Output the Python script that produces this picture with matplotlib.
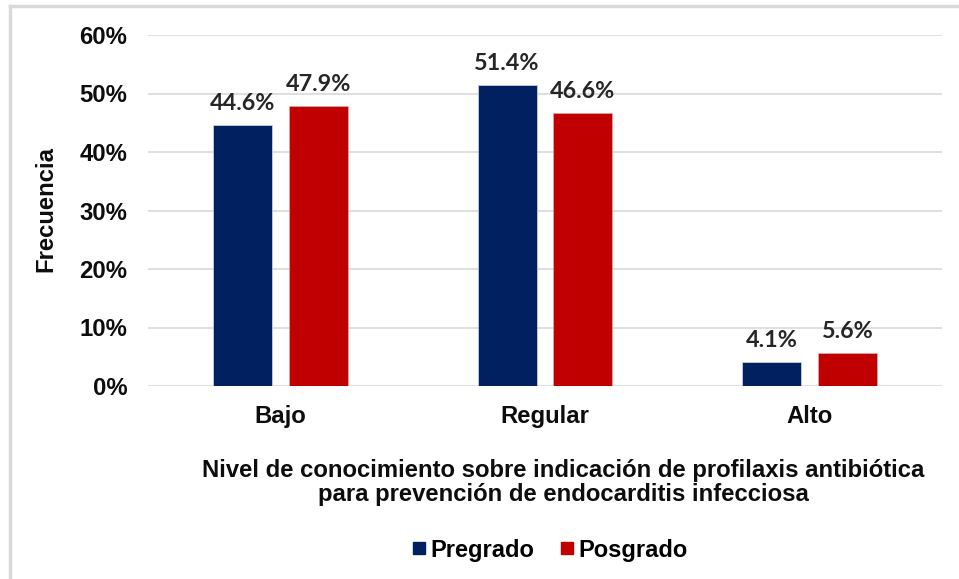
import matplotlib.pyplot as plt
import numpy as np
from matplotlib.lines import Line2D

categorias = ['Bajo', 'Regular', 'Alto']
pregrado = [44.6, 51.4, 4.1]
posgrado = [47.9, 46.6, 5.6]
yticks = [0, 10, 20, 30, 40, 50, 60]

azul = '#002060'
rojo = '#C00000'

W, H = 959, 579
fig = plt.figure(figsize=(W / 100, H / 100), dpi=100)
ax = fig.add_axes([148 / W, 1 - 386 / H, (942 - 148) / W, (386 - 35) / H])

x = np.arange(len(categorias))
ancho = 0.222
off = 0.143
b1 = ax.bar(x - off, pregrado, ancho, color=azul, edgecolor='#c8cde0', linewidth=0.6, zorder=3, label='Pregrado')
b2 = ax.bar(x + off, posgrado, ancho, color=rojo, edgecolor='#e8a0a0', linewidth=0.6, zorder=3, label='Posgrado')

for barras, vals in [(b1, pregrado), (b2, posgrado)]:
    for b, v in zip(barras, vals):
        ax.annotate(f'{v:.1f}%', (b.get_x() + b.get_width() / 2, v),
                    xytext=(0, 8), textcoords='offset points', ha='center', va='bottom',
                    fontsize=16.8, fontweight='bold', family='Lato', color='#262626')

ax.set_xlim(-0.5, 2.5)
ax.set_ylim(0, 60)
ax.set_yticks(yticks)
ax.set_yticklabels([f'{t}%' for t in yticks])
ax.set_xticks(x)
ax.set_xticklabels(categorias)
ax.yaxis.grid(True, color='#d9d9d9', linewidth=1.2, zorder=0)
ax.set_axisbelow(True)
for s in ax.spines.values():
    s.set_visible(False)
ax.tick_params(length=0)
ax.tick_params(axis='y', pad=15)
ax.tick_params(axis='x', pad=14)
for lbl in ax.get_xticklabels() + ax.get_yticklabels():
    lbl.set_fontfamily('Liberation Sans')
    lbl.set_fontweight('bold')
    lbl.set_fontsize(17.2)
    lbl.set_color('#0d0d0d')

fig.text(46 / W, 1 - 209 / H, 'Frecuencia', rotation=90, ha='center', va='center',
         fontsize=17.2, fontweight='bold', family='Liberation Sans', color='#0d0d0d')
fig.text(563 / W, 1 - 482.5 / H,
         'Nivel de conocimiento sobre indicación de profilaxis antibiótica\npara prevención de endocarditis infecciosa',
         ha='center', va='center', fontsize=17.2, fontweight='bold', family='Liberation Sans',
         color='#0d0d0d', linespacing=1.08)

handles = [Line2D([], [], marker='s', linestyle='', color=azul, markersize=8.5),
           Line2D([], [], marker='s', linestyle='', color=rojo, markersize=8.5)]
fig.legend(handles, ['Pregrado', 'Posgrado'], loc='center', bbox_to_anchor=(548 / W, 1 - 550 / H),
           ncol=2, frameon=False, handletextpad=0.05, columnspacing=0.9, handlelength=0.9,
           prop={'family': 'Liberation Sans', 'weight': 'bold', 'size': 17})

# borde gris (solo izquierda y arriba visibles)
fig.add_artist(Line2D([10 / W, 10 / W], [0, 1 - 6 / H], color='#d9d9d9', linewidth=2.5))
fig.add_artist(Line2D([10 / W, 1], [1 - 6 / H, 1 - 6 / H], color='#d9d9d9', linewidth=2.5))

fig.savefig('out.png', dpi=100)
